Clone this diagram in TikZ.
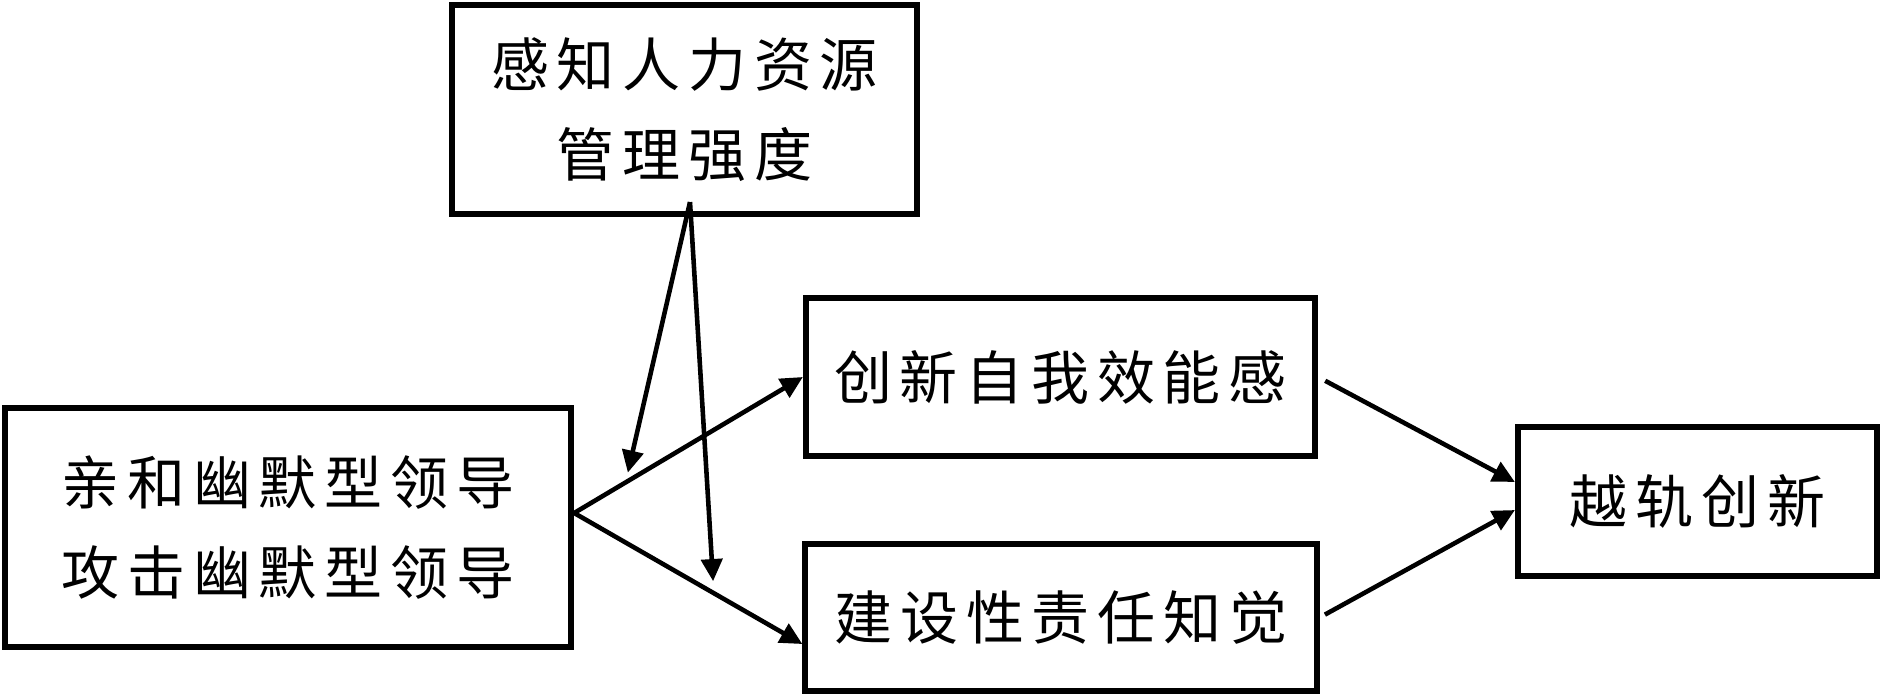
\documentclass[tikz,border=0pt]{standalone}
\usepackage{fontspec}
\newfontfamily\cjkfont[LetterSpace=13.3]{Noto Sans CJK SC}
\usetikzlibrary{arrows.meta,calc}

\begin{document}
\begin{tikzpicture}[x=0.01cm,y=-0.01cm,
    varbox/.style={draw,line width=1.7pt,inner sep=0pt,align=center,
      font=\cjkfont\fontsize{16.5}{25.6}\selectfont},
    arr/.style={line width=1.3pt,-{Triangle[length=6.3pt,width=6pt]}}]
  \useasboundingbox (0,0) rectangle (1882,696);

  \node[varbox,minimum width=4.65cm,minimum height=2.09cm]
    (hrm) at (684.5,109.5) {感知人力资源\\管理强度};
  \node[varbox,minimum width=5.66cm,minimum height=2.39cm]
    (humor) at (288,527.5) {亲和幽默型领导\\攻击幽默型领导};
  \node[varbox,minimum width=5.09cm,minimum height=1.58cm]
    (efficacy) at (1060.5,377) {创新自我效能感};
  \node[varbox,minimum width=5.11cm,minimum height=1.47cm]
    (felt) at (1061,617.5) {建设性责任知觉};
  \node[varbox,minimum width=3.59cm,minimum height=1.49cm]
    (deviance) at (1697.5,501.5) {越轨创新};

  \coordinate (apex) at ([yshift=0.145cm]humor.east);
  \coordinate (felt in) at ([yshift=-0.265cm]felt.west);
  \coordinate (mod) at ([xshift=0.055cm,yshift=0.15cm]hrm.south);

  \draw[arr] (apex) -- coordinate[pos=0.225] (m1) (efficacy.west);
  \draw[arr] (apex) -- coordinate[pos=0.612] (m2) (felt in);
  \draw[arr,shorten <=0.08cm] (efficacy.east) -- ([yshift=0.195cm]deviance.west);
  \draw[arr,shorten <=0.06cm] (felt.east) -- ([yshift=-0.085cm]deviance.west);
  \draw[arr,shorten >=0.1cm] (mod) -- (m1);
  \draw[arr,shorten >=0.12cm] (mod) -- (m2);
\end{tikzpicture}
\end{document}
